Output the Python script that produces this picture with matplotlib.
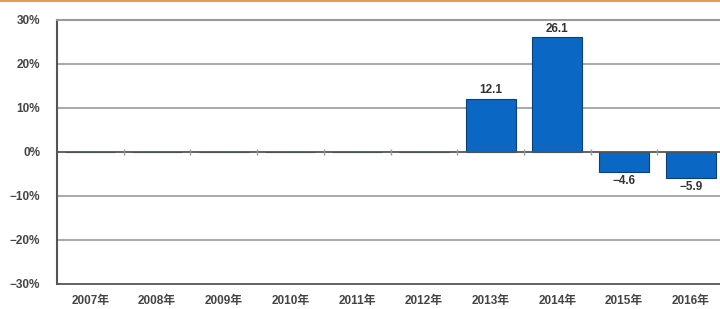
import matplotlib
matplotlib.use("Agg")
import matplotlib.pyplot as plt
import numpy as np

plt.rcParams['font.family'] = ['Liberation Sans', 'Noto Sans CJK JP', 'DejaVu Sans']

years = ["2007年", "2008年", "2009年", "2010年", "2011年", "2012年", "2013年", "2014年", "2015年", "2016年"]
values = [0, 0, 0, 0, 0, 0, 12.1, 26.1, -4.6, -5.9]
labels = ["", "", "", "", "", "", "12.1", "26.1", "−4.6", "−5.9"]
yticks = [-30, -20, -10, 0, 10, 20, 30]
ytick_labels = ["−30%", "−20%", "−10%", "0%", "10%", "20%", "30%"]

fig = plt.figure(figsize=(7.2, 3.09), dpi=100)
left = 57 / 720
width = 667 / 720
bottom = 25 / 309
top = 289 / 309
ax = fig.add_axes([left, bottom, width, top - bottom])

x = np.arange(len(years))
ax.bar(x, values, width=0.75, color="#0a68c4", edgecolor="#0b3f7a", linewidth=0.8, zorder=3)

for xi, v, lab in zip(x, values, labels):
    if not lab:
        continue
    if v >= 0:
        ax.text(xi, v + 0.6, lab, ha="center", va="bottom", fontsize=8.5, color="#333333", fontweight="bold")
    else:
        ax.text(xi, v - 0.6, lab, ha="center", va="top", fontsize=8.5, color="#333333", fontweight="bold")

ax.set_xlim(-0.5, len(years) - 0.5)
ax.set_ylim(-30, 30)
ax.set_yticks(yticks)
ax.set_yticklabels(ytick_labels, fontsize=8.5, color="#444444", fontweight="bold")
ax.set_xticks(x)
ax.set_xticklabels(years, fontsize=8.5, color="#444444", fontweight="bold")
ax.tick_params(axis="y", length=0, pad=12)
ax.tick_params(axis="x", length=0, pad=8)

for y in [-20, -10, 10, 20]:
    ax.axhline(y, color="#9a9a9a", linewidth=1.2, zorder=1)
ax.axhline(0, color="#555555", linewidth=1.3, zorder=4)

# small boundary ticks on the zero line
bounds = x[:-1] + 0.5
ax.plot(bounds, np.zeros_like(bounds), linestyle="none", marker="|", markersize=5,
        color="#999999", zorder=5)

ax.spines["left"].set_color("#555555")
ax.spines["left"].set_linewidth(1.5)
ax.spines["bottom"].set_color("#555555")
ax.spines["bottom"].set_linewidth(1.3)
ax.spines["top"].set_color("#9a9a9a")
ax.spines["top"].set_linewidth(1.5)
ax.spines["right"].set_visible(False)

# decorative frame line at the very top of the picture
fig.add_artist(plt.Line2D([0, 1], [0.997, 0.997], color="#e0a050", linewidth=1.5))

fig.savefig("out.png", dpi=100)
